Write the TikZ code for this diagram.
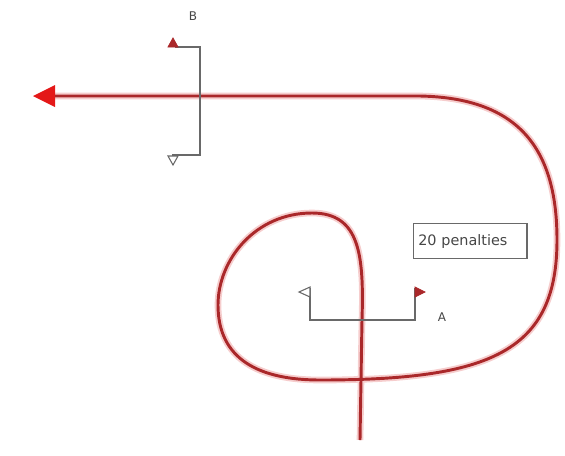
\documentclass[tikz,border=0pt]{standalone}
\usepackage{fontspec}
\setmainfont{DejaVu Sans}
\tikzset{every picture/.style={line width=0.75pt}}
\definecolor{trackred}{RGB}{170,40,42}
\definecolor{trackhalo}{RGB}{246,205,205}
\definecolor{arrowred}{RGB}{228,24,24}
\definecolor{gategray}{RGB}{105,105,105}
\definecolor{labelgray}{RGB}{70,70,70}
\tikzset{
  track/.style={draw=trackred, line width=2.2pt, preaction={draw=trackhalo, line width=5pt}},
  gate/.style={draw=gategray, line width=1.1pt},
  flagfull/.style={draw=trackred, fill=trackred, line width=0.6pt},
  flagopen/.style={draw=gategray, fill=white, line width=0.8pt},
  gatelabel/.style={text=labelgray, inner sep=0.75pt, font=\fontsize{9}{11}\selectfont},
}

\begin{document}
\begin{tikzpicture}[x=0.75pt,y=0.75pt,yscale=-1,xscale=1]
	\path[use as bounding box] (0,0) rectangle (565,455);
	
	%Curve Lines
	\draw[track] (360,440) -- (362,320) .. controls (364,255) and (360,213) .. (312,213) .. controls (255,213) and (218,260) .. (218,305) .. controls (218,360) and (260,380) .. (320,380) .. controls (490,380) and (557,352) .. (557,240) .. controls (557,150) and (520,98) .. (420,96) -- (52,96) ;
	%Shape: Triangle
	\fill[arrowred] (33,96) -- (55,85) -- (55,107) -- cycle ;
	
	%Straight Lines
	\draw[gate] (175,47) -- (200,47) -- (200,155) -- (172,155) ;
	%Shape: Triangle
	\draw[flagfull] (173,38) -- (178,47) -- (168,47) -- cycle ;
	%Shape: Triangle
	\draw[flagopen] (168,156) -- (178,156) -- (173,165) -- cycle ;
	
	%Straight Lines
	\draw[gate] (310,288) -- (310,320) -- (415,320) -- (415,288) ;
	%Shape: Triangle
	\draw[flagopen] (310,287) -- (310,297) -- (299,292) -- cycle ;
	%Shape: Triangle
	\draw[flagfull] (415,287) -- (415,297) -- (425,292) -- cycle ;
	
	% Text Node
	\node[gatelabel] (lblB) at (193,16) {B};
	% Text Node
	\node[gatelabel] (lblA) at (442,317) {A};
	% Text Node
	\node[draw=gategray, line width=1pt, anchor=north west, minimum width=84.75pt, minimum height=26.25pt, text width=78pt, inner sep=3.5pt, align=left, text=labelgray, font=\fontsize{10.8}{12}\selectfont] (penalties) at (413,223) {20 penalties};
\end{tikzpicture}
\end{document}
